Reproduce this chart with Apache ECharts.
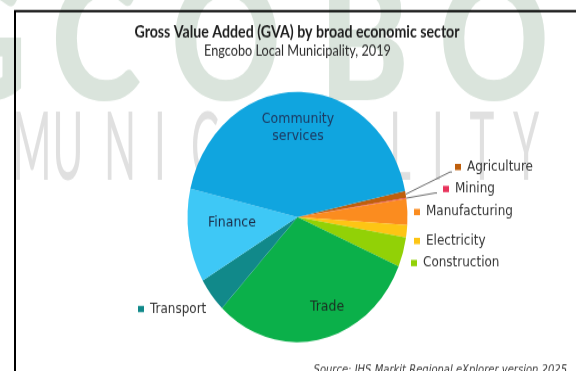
<!DOCTYPE html>
<html>
<head>
<meta charset="utf-8">
<script src="https://cdn.jsdelivr.net/npm/echarts@6/dist/echarts.min.js"></script>
<style>
  html, body { margin: 0; padding: 0; background: #ffffff; width: 576px; height: 371px; overflow: hidden; }
  /* the published figure is stretched vertically; reproduce that with a CSS scale */
  #chart { width: 576px; height: 326px; transform: scaleY(1.138); transform-origin: 0 0; }
</style>
</head>
<body>
<div id="chart"></div>
<script>
// ---- data -------------------------------------------------------------
const sectors = ['Agriculture', 'Mining', 'Manufacturing', 'Electricity', 'Construction',
                 'Trade', 'Transport', 'Finance', 'Community services'];
const gvaShare = [0.9, 0.1, 3.4, 1.6, 3.8, 30.6, 4.5, 12.1, 43.0];   // % of total GVA

const titleText = 'Gross Value Added (GVA) by broad economic sector';
const subtitleText = 'Engcobo Local Municipality, 2019';
const sourceText = 'Source: IHS Markit Regional eXplorer version 2025';
const watermarkTop = ['G', 'C', 'O', 'B', 'O'];
const watermarkBottom = ['M', 'U', 'N', 'I', 'C', 'I', 'P', 'A', 'L', 'I', 'T', 'Y'];

// ---- styling ----------------------------------------------------------
const sectorColors = ['#bf5f0c', '#e8345c', '#fb8c1f', '#fdc514', '#92d106',
                      '#0bb04a', '#11898a', '#3ec8f6', '#10a5df'];
const insideSectors = ['Trade', 'Finance', 'Community services'];
const insideColors = { 'Trade': '#1b2f22', 'Finance': '#1c2d48', 'Community services': '#1d3a62' };

const STRETCH = 1.138;
const toY = v => v / STRETCH;          // page pixels -> chart units (vertical)

// label anchors in page pixels: [x, y, align]
const labelSpots = {
  'Agriculture':        [455, 167, 'left'],
  'Mining':             [443, 189, 'left'],
  'Manufacturing':      [414, 212, 'left'],
  'Electricity':        [414, 241, 'left'],
  'Construction':       [411, 263, 'left'],
  'Trade':              [327, 307, 'center'],
  'Transport':          [138, 309, 'left'],
  'Finance':            [232, 223, 'center'],
  'Community services': [298, 128, 'center']
};
// leader line end offsets (chart units, relative to label anchor)
const leaderEnds = { 'Agriculture': [-3, 4.4], 'Mining': [-6, 3.5] };

const watermarkTopX = [-22, 96, 226, 364, 494];
const watermarkBottomX = [32, 68, 120, 160, 205, 245, 284, 335, 400, 438, 482, 526];

const chart = echarts.init(document.getElementById('chart'), null, { renderer: 'canvas' });

const graphics = [];
watermarkTop.forEach((ch, i) => {
  graphics.push({
    type: 'text', x: watermarkTopX[i], y: toY(46), z: -10, silent: true,
    scaleX: 0.92,
    style: { text: ch, align: 'center', verticalAlign: 'middle',
             fontFamily: 'Lato', fontWeight: 900, fontSize: 148, fill: '#dae4dc' }
  });
});
watermarkBottom.forEach((ch, i) => {
  graphics.push({
    type: 'text', x: watermarkBottomX[i], y: toY(149), z: -10, silent: true,
    scaleX: 0.5,
    style: { text: ch, align: 'center', verticalAlign: 'middle',
             fontFamily: 'Lato', fontWeight: 400, fontSize: 84, fill: '#e0e0e0' }
  });
});
// frame of the figure panel
graphics.push({
  type: 'polyline', z: -5, silent: true,
  shape: { points: [[15, 330], [15, toY(11)], [580, toY(11)]] },
  style: { stroke: '#000000', lineWidth: 2, fill: null }
});
graphics.push({
  type: 'text', x: 567, y: toY(370), silent: true,
  style: { text: sourceText, align: 'right', verticalAlign: 'middle',
           fontFamily: 'DejaVu Sans', fontStyle: 'italic', fontSize: 10, fill: '#3c3c3c' }
});

const pieData = sectors.map((name, i) => {
  const inside = insideSectors.includes(name);
  return {
    name: name,
    value: gvaShare[i],
    itemStyle: { color: sectorColors[i] },
    label: inside
      ? { color: insideColors[name], fontSize: 12.5, lineHeight: 15, align: 'center' }
      : { rich: {
            sq: { width: 6, height: 5.5, backgroundColor: sectorColors[i] },
            t: { fontFamily: 'DejaVu Sans', fontSize: 12, color: '#333333', padding: [0, 0, 0, 6] }
          } },
    labelLine: { show: !!leaderEnds[name] }
  };
});

chart.setOption({
  animation: false,
  title: [
    { text: titleText, left: 297, top: toY(33) - 7.5, textAlign: 'center', padding: 0,
      textStyle: { fontFamily: 'Lato', fontWeight: 'bold', fontSize: 14.2, color: '#1e1e1e' } },
    { text: subtitleText, left: 297.5, top: toY(51.5) - 7, textAlign: 'center', padding: 0,
      textStyle: { fontFamily: 'Lato', fontWeight: 'normal', fontSize: 12.7, color: '#2a2a2a' } }
  ],
  graphic: graphics,
  series: [{
    type: 'pie',
    center: [297.5, toY(217)],
    radius: 110,
    startAngle: 12.1,
    clockwise: true,
    avoidLabelOverlap: false,
    emphasis: { disabled: true },
    itemStyle: { borderWidth: 0 },
    label: {
      show: true,
      position: 'outside',
      fontFamily: 'DejaVu Sans',
      formatter: p => insideSectors.includes(p.name)
        ? p.name.split(' ').join('\n')
        : '{sq|}{t|' + p.name + '}'
    },
    labelLine: { show: false, length: 10, length2: 10, lineStyle: { color: '#5a5a5a', width: 0.9 } },
    labelLayout: params => {
      const name = sectors[params.dataIndex];
      const spot = labelSpots[name];
      const x = spot[0], y = toY(spot[1]);
      const out = { x: x, y: y, align: spot[2], verticalAlign: 'middle' };
      const end = leaderEnds[name];
      if (end && params.labelLinePoints) {
        const start = params.labelLinePoints[0];
        out.labelLinePoints = [start, [x + end[0] - 2, y + end[1]], [x + end[0], y + end[1]]];
      }
      return out;
    },
    data: pieData
  }]
});
</script>
</body>
</html>
